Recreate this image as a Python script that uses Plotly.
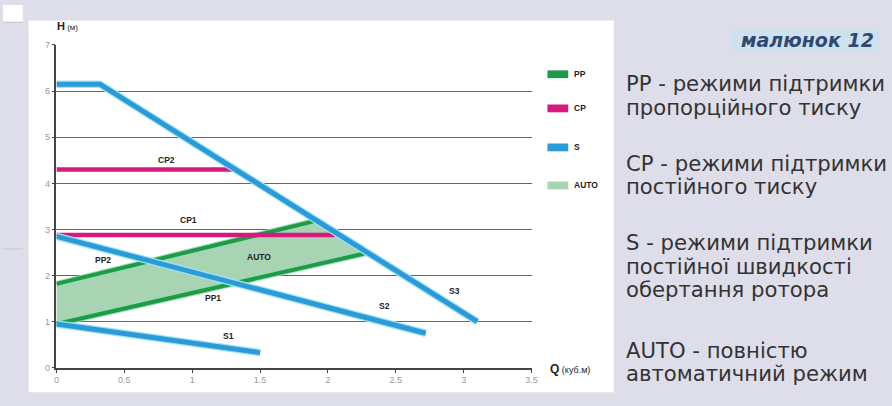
import plotly.graph_objects as go

# ---- data ----
s3_q = [0, 0.32, 3.1]
s3_h = [6.15, 6.15, 1.0]
s2_q = [0, 2.72]
s2_h = [2.85, 0.75]
s1_q = [0, 1.5]
s1_h = [0.95, 0.33]
cp2_q = [0, 1.3]
cp2_h = [4.3, 4.3]
cp1_q = [0, 2.05]
cp1_h = [2.88, 2.88]
pp2_q = [0, 1.9]
pp2_h = [1.82, 3.18]
pp1_q = [0, 2.3]
pp1_h = [0.95, 2.5]
auto_q = [0, 2.3, 1.9, 0]
auto_h = [0.95, 2.5, 3.18, 1.82]

x_ticks = [0, 0.5, 1, 1.5, 2, 2.5, 3, 3.5]
x_tick_labels = ["0", "0.5", "1", "1.5", "2", "2.5", "3", "3.5"]
y_ticks = [0, 1, 2, 3, 4, 5, 6, 7]

curve_labels = ["CP2", "CP1", "PP2", "AUTO", "PP1", "S1", "S2", "S3"]
curve_label_q = [0.81, 0.97, 0.34, 1.49, 1.15, 1.27, 2.42, 2.93]
curve_label_h = [4.5, 3.21, 2.33, 2.41, 1.52, 0.70, 1.35, 1.67]

legend_names = ["PP", "CP", "S", "AUTO"]
legend_colors = ["#1e9a4a", "#d8187c", "#2a9ad8", "#a9d4b4"]

notes = [
    "PP - режими підтримки", "пропорційного тиску",
    "CP - режими підтримки", "постійного тиску",
    "S - режими підтримки", "постійної швидкості", "обертання ротора",
    "AUTO - повністю", "автоматичний режим",
]
notes_y_px = [80, 105, 162, 186, 244, 268, 292, 354, 378]

W, H = 892, 406
GREEN, PINK, BLUE, HALO, FILL = "#1e9a4a", "#d8187c", "#2a9ad8", "#9fe3f2", "#a9d4b4"

fig = go.Figure()

fig.add_trace(go.Scatter(x=auto_q, y=auto_h, fill="toself", fillcolor=FILL,
                         line=dict(width=0), mode="lines", hoverinfo="skip"))
for q, h in [(pp2_q, pp2_h), (pp1_q, pp1_h)]:
    fig.add_trace(go.Scatter(x=q, y=h, mode="lines", line=dict(color="#8fe0a8", width=6)))
    fig.add_trace(go.Scatter(x=q, y=h, mode="lines", line=dict(color=GREEN, width=4)))
for q, h in [(cp2_q, cp2_h), (cp1_q, cp1_h)]:
    fig.add_trace(go.Scatter(x=q, y=h, mode="lines", line=dict(color=PINK, width=4.5)))
for q, h in [(s1_q, s1_h), (s2_q, s2_h), (s3_q, s3_h)]:
    fig.add_trace(go.Scatter(x=q, y=h, mode="lines", line=dict(color=HALO, width=7.5)))
    fig.add_trace(go.Scatter(x=q, y=h, mode="lines", line=dict(color=BLUE, width=5)))

annotations = []
for t, q, h in zip(curve_labels, curve_label_q, curve_label_h):
    annotations.append(dict(x=q, y=h, xref="x", yref="y", text="<b>" + t + "</b>",
                            showarrow=False, font=dict(family="Liberation Sans", size=8.5, color="#222")))

def px(xp):
    return xp / W

def py(yp):
    return 1 - yp / H

shapes = [
    dict(type="rect", xref="paper", yref="paper", layer="below",
         x0=px(0), x1=px(20), y0=py(17), y1=py(0), fillcolor="white", line=dict(width=0)),
    dict(type="line", xref="paper", yref="paper", layer="below",
         x0=px(0), x1=px(20), y0=py(18), y1=py(18), line=dict(color="#c8c8d0", width=1)),
    dict(type="line", xref="paper", yref="paper", layer="below",
         x0=px(0), x1=px(20), y0=py(250), y1=py(250), line=dict(color="#c8c8d0", width=1)),
    dict(type="rect", xref="paper", yref="paper", layer="below",
         x0=px(26), x1=px(617), y0=py(397), y1=py(16),
         fillcolor="white", line=dict(width=0)),
    dict(type="rect", xref="paper", yref="paper", layer="below",
         x0=px(735), x1=px(885), y0=py(47), y1=py(25),
         fillcolor="#cfe0ef", line=dict(width=0)),
]

leg_y_px = [71, 106, 146, 185]
for name, col, yp in zip(legend_names, legend_colors, leg_y_px):
    shapes.append(dict(type="rect", xref="paper", yref="paper",
                       x0=px(550), x1=px(571), y0=py(yp + 4), y1=py(yp - 4),
                       fillcolor=col, line=dict(width=0)))
    annotations.append(dict(x=px(575), y=py(yp), xref="paper", yref="paper",
                            xanchor="left", yanchor="middle", showarrow=False,
                            text="<b>" + name + "</b>",
                            font=dict(family="Liberation Sans", size=8.5, color="#222")))

annotations.append(dict(x=px(53), y=py(22), xref="paper", yref="paper",
                        xanchor="left", yanchor="middle", showarrow=False,
                        text="<b>H</b><span style='font-size:8px'> (м)</span>",
                        font=dict(family="Liberation Sans", size=11, color="#222")))
annotations.append(dict(x=px(551), y=py(373), xref="paper", yref="paper",
                        xanchor="left", yanchor="middle", showarrow=False,
                        text="<b>Q</b><span style='font-size:9px'> (куб.м)</span>",
                        font=dict(family="Liberation Sans", size=12, color="#222")))

annotations.append(dict(x=px(882), y=py(36), xref="paper", yref="paper",
                        xanchor="right", yanchor="middle", showarrow=False,
                        text="<b><i>малюнок 12</i></b>",
                        font=dict(family="DejaVu Sans", size=19, color="#2f4a70")))
for t, yp in zip(notes, notes_y_px):
    annotations.append(dict(x=px(627), y=py(yp), xref="paper", yref="paper",
                            xanchor="left", yanchor="middle", showarrow=False, text=t,
                            font=dict(family="DejaVu Sans", size=21.2, color="#333")))

fig.update_layout(
    width=W, height=H, margin=dict(l=0, r=0, t=0, b=0),
    paper_bgcolor="#dedeea", plot_bgcolor="rgba(0,0,0,0)",
    showlegend=False, shapes=shapes, annotations=annotations,
    xaxis=dict(domain=[px(54), px(534)], range=[0, 3.5], tickvals=x_ticks,
               ticktext=x_tick_labels, showgrid=False, zeroline=False,
               showline=True, linecolor="#444", linewidth=1.5,
               ticks="outside", ticklen=3, tickcolor="#444",
               tickfont=dict(family="Liberation Sans", size=9, color="#999")),
    yaxis=dict(domain=[py(372), py(41)], range=[0, 7], tickvals=y_ticks,
               showgrid=True, gridcolor="#666", gridwidth=1, zeroline=False,
               showline=True, linecolor="#444", linewidth=1.5,
               ticks="outside", ticklen=3, tickcolor="#444",
               tickfont=dict(family="Liberation Sans", size=9, color="#999")),
)

fig.write_html(
    "out.html",
    config={"displayModeBar": False},
    post_script="document.body.style.margin='0';document.body.style.overflow='hidden';",
)
